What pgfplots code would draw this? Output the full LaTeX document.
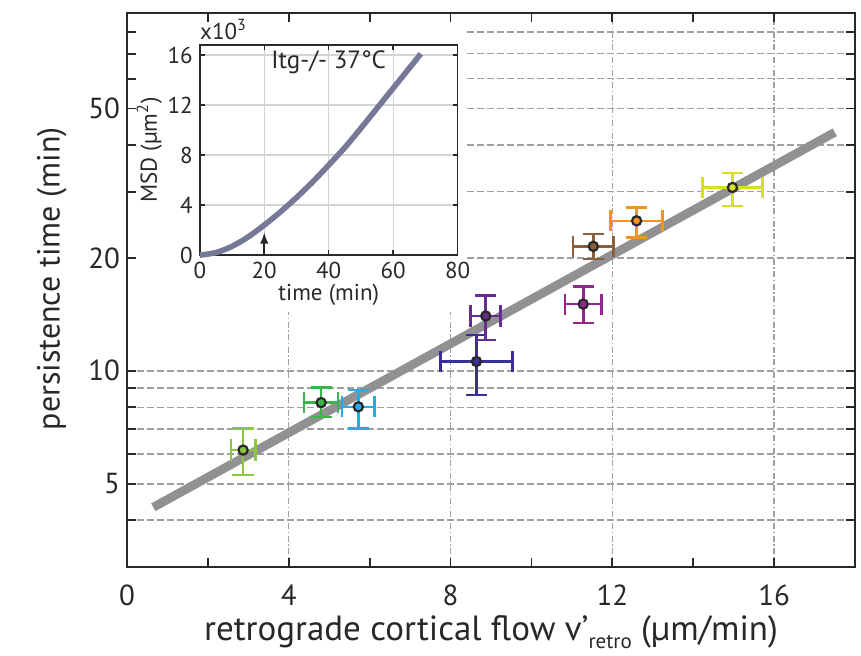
\documentclass[border=0pt]{standalone}
\usepackage{fontspec}
\setmainfont{PT Sans}
\usepackage{pgfplots}
\pgfplotsset{compat=1.18}
\definecolor{cLG}{RGB}{141,198,63}
\definecolor{cG}{RGB}{57,181,74}
\definecolor{cB}{RGB}{41,171,226}
\definecolor{cP}{RGB}{102,45,145}
\definecolor{cI}{RGB}{56,48,150}
\definecolor{cM}{RGB}{146,39,143}
\definecolor{cBr}{RGB}{139,94,60}
\definecolor{cO}{RGB}{247,148,29}
\definecolor{cY}{RGB}{215,223,35}
\definecolor{fitgray}{RGB}{145,145,147}
\definecolor{msd}{RGB}{118,120,152}
\definecolor{gridgray}{RGB}{160,160,160}
\definecolor{txt}{RGB}{40,40,40}
\pgfplotsset{
  datapoint/.style={
    mark=*, mark size=2.3pt,
    mark options={draw=txt, fill=#1, line width=1.1pt},
    color=#1,
    error bars/.cd,
      x dir=both, x explicit, y dir=both, y explicit,
      error bar style={line width=1.3pt, color=#1},
      error mark=-,
      error mark options={rotate=90, line width=1.3pt, mark size=5.3pt, color=#1, draw=#1},
  },
  tickseg/.style={txt, line width=#1, no markers, forget plot},
}
\begin{document}
\begin{tikzpicture}
% grid layers
\begin{axis}[name=gx,
  width=364pt, height=277.2pt, scale only axis,
  xmin=0, xmax=18, ymin=3, ymax=90, ymode=log,
  xtick={0,4,8,12,16}, ytick={5,10,20,50},
  xmajorgrids, major grid style={gridgray, line width=0.7pt, dash pattern=on 3pt off 1.3pt on 0.7pt off 1.3pt},
  xticklabels={}, yticklabels={}]
\end{axis}
\begin{axis}[
  width=364pt, height=277.2pt, scale only axis,
  xmin=0, xmax=18, ymin=3, ymax=90, ymode=log,
  xtick={0,4,8,12,16}, ytick={5,10,20,50},
  minor ytick={3,4,6,7,8,9,30,40,60,70,80,90},
  ymajorgrids, yminorgrids,
  major grid style={gridgray, line width=0.7pt, dash pattern=on 3.5pt off 1.5pt},
  minor grid style={gridgray, line width=0.7pt, dash pattern=on 3.5pt off 1.5pt},
  xticklabels={}, yticklabels={}]
\end{axis}
\fill[white] ([yshift=127.5pt]gx.south west) rectangle ([xshift=170pt]gx.north west);
% main data axis
\begin{axis}[name=main,
  width=364pt, height=277.2pt, scale only axis,
  xmin=0, xmax=18, ymin=3, ymax=90, ymode=log,
  xtick={0,4,8,12,16}, minor xtick={2,6,10,14},
  ytick={5,10,20,50}, yticklabels={5,10,20,50},
  minor ytick={3,4,6,7,8,9,30,40,60,70,80,90},
  axis line style={line width=1pt, draw=txt},
  tick align=inside, major tick length=4.5pt, minor tick length=4.5pt,
  major tick style={line width=0.9pt, draw=txt},
  minor tick style={line width=0.9pt, draw=txt},
  ticklabel style={font=\fontsize{14.5}{16}\selectfont, text=txt},
  xticklabel style={yshift=-5.5pt},
  /pgf/number format/assume math mode=true,
  xlabel={retrograde cortical flow v’\raisebox{-0.45ex}{\fontsize{10.5}{11}\selectfont retro} (µm/min)},
  ylabel={persistence time (min)},
  xlabel style={font=\fontsize{17.5}{19}\selectfont, text=txt, yshift=2pt},
  ylabel style={font=\fontsize{16}{19}\selectfont, text=txt, at={(ticklabel cs:0.52)}, yshift=4pt},
  clip=false]
% frame tick marks
\pgfplotsinvokeforeach{2,4,6,8,10,12,14,16}{
  \addplot[tickseg=0.9pt] coordinates {(#1,3) (#1,3.17)};
  \addplot[tickseg=0.9pt] coordinates {(#1,90) (#1,85.2)};
}
\pgfplotsinvokeforeach{4,5,6,7,8,9,10,20,30,40,50,60,70,80}{
  \addplot[tickseg=0.9pt] coordinates {(0,#1) (0.2225,#1)};
  \addplot[tickseg=0.9pt] coordinates {(18,#1) (17.7775,#1)};
}
\addplot[fitgray, line width=4.4pt, no markers] coordinates {(0.65,4.33) (17.5,43.2)};
\addplot[datapoint=cLG] coordinates {(2.87,6.15) += (0.30,0.88) -= (0.30,0.87)};
\addplot[datapoint=cG] coordinates {(4.80,8.23) += (0.42,0.80) -= (0.42,0.69)};
\addplot[datapoint=cB] coordinates {(5.72,8.02) += (0.40,0.86) -= (0.40,0.99)};
\addplot[datapoint=cI] coordinates {(8.64,10.59) += (0.89,1.88) -= (0.89,1.96)};
\addplot[datapoint=cP] coordinates {(8.87,14.0) += (0.37,1.85) -= (0.37,1.93)};
\addplot[datapoint=cM] coordinates {(11.28,15.06) += (0.45,1.69) -= (0.45,1.66)};
\addplot[datapoint=cBr] coordinates {(11.53,21.46) += (0.50,1.68) -= (0.50,1.60)};
\addplot[datapoint=cO] coordinates {(12.60,25.1) += (0.64,2.1) -= (0.64,2.4)};
\addplot[datapoint=cY] coordinates {(14.97,30.8) += (0.74,2.9) -= (0.74,3.3)};
\end{axis}
% inset
\begin{axis}[name=inset, at={(main.south west)}, anchor=south west,
  xshift=36.4pt, yshift=156pt,
  width=128.9pt, height=105pt, scale only axis,
  xmin=0, xmax=80, ymin=0, ymax=16.8,
  xtick={0,20,40,60,80}, ytick={0,4,8,12,16},
  grid=major, major grid style={line width=0.6pt, draw=black!17},
  axis line style={line width=0.9pt, draw=txt},
  tick align=inside, major tick length=2.5pt,
  major tick style={line width=0.7pt, draw=txt},
  ticklabel style={font=\fontsize{11.5}{13}\selectfont, text=txt},
  /pgf/number format/assume math mode=true,
  xlabel={time (min)}, ylabel={MSD (µm\textsuperscript{2})},
  label style={font=\fontsize{11.5}{13}\selectfont, text=txt},
  xlabel style={yshift=4pt}, ylabel style={yshift=-4pt},
  clip=false]
\pgfplotsinvokeforeach{20,40,60}{
  \addplot[tickseg=0.7pt] coordinates {(#1,0) (#1,0.4)};
  \addplot[tickseg=0.7pt] coordinates {(#1,16.8) (#1,16.4)};
}
\pgfplotsinvokeforeach{4,8,12,16}{
  \addplot[tickseg=0.7pt] coordinates {(0,#1) (1.55,#1)};
  \addplot[tickseg=0.7pt] coordinates {(80,#1) (78.45,#1)};
}
\addplot[msd, line width=2.8pt, smooth, no markers] coordinates {
(0,0) (5,0.2) (10,0.7) (15,1.45) (20,2.4) (25,3.45) (30,4.6) (35,5.85) (40,7.2) (45,8.6) (50,10.15) (55,11.75) (60,13.35) (65,14.95) (68.6,16.1)};
\addplot[txt, line width=0.9pt, -latex, no markers] coordinates {(20,0) (20,1.8)};
\node[font=\fontsize{12.5}{14}\selectfont, text=txt] at (axis cs:40,15.4) {Itg-/- 37°C};
\node[font=\fontsize{11.5}{13}\selectfont, text=txt, anchor=south west, inner sep=0pt] at ([yshift=2.5pt]rel axis cs:0,1) {x10\textsuperscript{3}};
\end{axis}
\pgfresetboundingbox
\path ([shift={(-63.5pt,-44pt)}]main.south west) rectangle ([shift={(3pt,6.35pt)}]main.north east);
\end{tikzpicture}
\end{document}
